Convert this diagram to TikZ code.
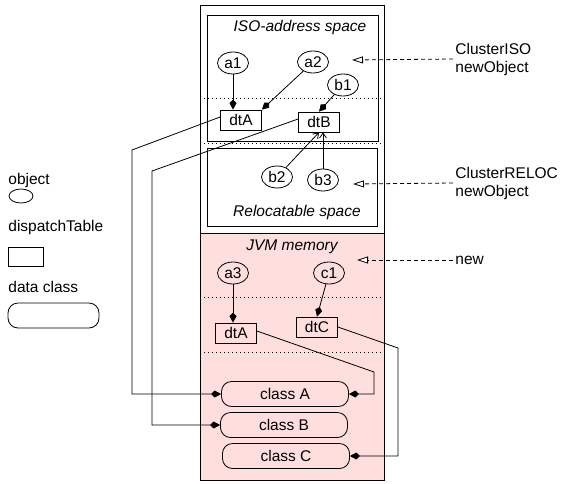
\documentclass[tikz,border=0pt]{standalone}
\usepackage{fontspec}
\setmainfont{Liberation Sans}
\usetikzlibrary{arrows.meta,shapes.geometric}
\definecolor{jvmpink}{RGB}{255,222,222}
\tikzset{
  obj/.style={ellipse, draw, minimum width=31pt, minimum height=22pt, inner sep=0pt},
  dtbox/.style={rectangle, draw, minimum width=41pt, minimum height=20pt, inner sep=1pt},
  cls/.style={rectangle, rounded corners=10pt, draw, minimum width=127pt, minimum height=25pt, inner sep=1pt},
  arr/.style={-{Kite[length=10pt,width=7pt,inset=3.5pt]}},
  oarr/.style={-{Straight Barb[length=5pt,width=7pt]}},
  lblarr/.style={dash pattern=on 4pt off 3pt, -{Triangle[open,length=11pt,width=7pt,fill=white]}},
  sep/.style={dash pattern=on 1pt off 3pt},
  region/.style={font=\fontsize{15.5}{17}\selectfont\itshape},
  side/.style={align=left, anchor=west, inner sep=0pt, font=\fontsize{15.5}{18}\selectfont},
}
\begin{document}
\begin{tikzpicture}[x=1pt,y=-1pt,line width=0.8pt,font=\fontsize{15.5}{17}\selectfont]
\useasboundingbox (0,0) rectangle (568,483);
% outer box and JVM region
\fill[jvmpink] (200,233) rectangle (384,480);
\draw (200,5) rectangle (384,480);
\draw (200,233) -- (384,233);
% separators
\draw[sep,line width=0.7pt] (200,98) -- (384,98);
\draw[sep,line width=0.7pt] (200,143) -- (384,143);
\draw[sep,line width=0.7pt] (200,297) -- (384,297);
\draw[sep,line width=0.7pt] (200,352) -- (384,352);
% inner regions
\draw (207,15) rectangle (378,141);
\draw (207,148) rectangle (377,226);
\node[region] (isoT) at (300,27) {ISO-address space};
\node[region] (relT) at (297,212) {Relocatable space};
\node[region] (jvmT) at (292,247) {JVM memory};
% objects
\node[obj] (a1) at (233,63) {a1};
\node[obj] (a2) at (313,62) {a2};
\node[obj] (b1) at (343,85) {b1};
\node[dtbox] (dtA) at (241,120) {dtA};
\node[dtbox] (dtB) at (319,122) {dtB};
\node[obj] (b2) at (277,177) {b2};
\node[obj] (b3) at (323,180) {b3};
\node[obj] (a3) at (233,273) {a3};
\node[obj] (c1) at (329,273) {c1};
\node[dtbox] (dtA2) at (236,333) {dtA};
\node[dtbox] (dtC) at (317,327) {dtC};
\node[cls] (clA) at (285,394) {class A};
\node[cls] (clB) at (284,425) {class B};
\node[cls] (clC) at (286,456) {class C};
% connectors
\draw[arr] (a1) -- (a1 |- dtA.north);
\draw[arr] (a2) -- (dtA.north east);
\draw[arr] (b1) -- (dtB.north);
\draw[oarr] (b2) -- (dtB.south);
\draw[oarr] (b3) -- (b3 |- dtB.south);
\draw[arr] (a3) -- (a3 |- dtA2.north);
\draw[arr] (c1) -- (dtC.north);
\coordinate (pA) at (132,150);
\coordinate (pB) at (152,171);
\coordinate (pA2) at (374,372);
\coordinate (pC) at (398,348);
\draw[arr] ([yshift=3pt]dtA.west) -- (pA) |- (clA.west);
\draw[arr] ([yshift=3pt]dtB.west) -- (pB) |- (clB.west);
\draw[arr] ([yshift=2pt]dtA2.east) -- (pA2) |- (clA.east);
\draw[arr] (dtC.east) -- (pC) |- (clC.east);
% side labels
\node[side] (lISO) at (455,59) {ClusterISO\\newObject};
\node[side] (lREL) at (455,183) {ClusterRELOC\\newObject};
\node[side] (lNEW) at (455,260) {new};
\coordinate (tISO) at (352,60);
\coordinate (tREL) at (353,184);
\coordinate (tNEW) at (357,260);
\draw[lblarr] ([xshift=-2pt]lISO.west) -- (tISO);
\draw[lblarr] ([xshift=-2pt]lREL.west) -- (tREL);
\draw[lblarr] ([xshift=-2pt]lNEW.west) -- (tNEW);
% legend
\node[side] (lgObj) at (8,180) {object};
\node[ellipse, draw, minimum width=24pt, minimum height=14pt, inner sep=0pt] (lgE) at (21,196) {};
\node[side] (lgDt) at (8,227) {dispatchTable};
\node[rectangle, draw, minimum width=35pt, minimum height=19pt, inner sep=0pt] (lgR) at (25.5,256.5) {};
\node[side] (lgCl) at (8,287) {data class};
\node[rectangle, rounded corners=10pt, draw, minimum width=91pt, minimum height=25pt, inner sep=0pt] (lgC) at (53.5,315.5) {};
\end{tikzpicture}
\end{document}
